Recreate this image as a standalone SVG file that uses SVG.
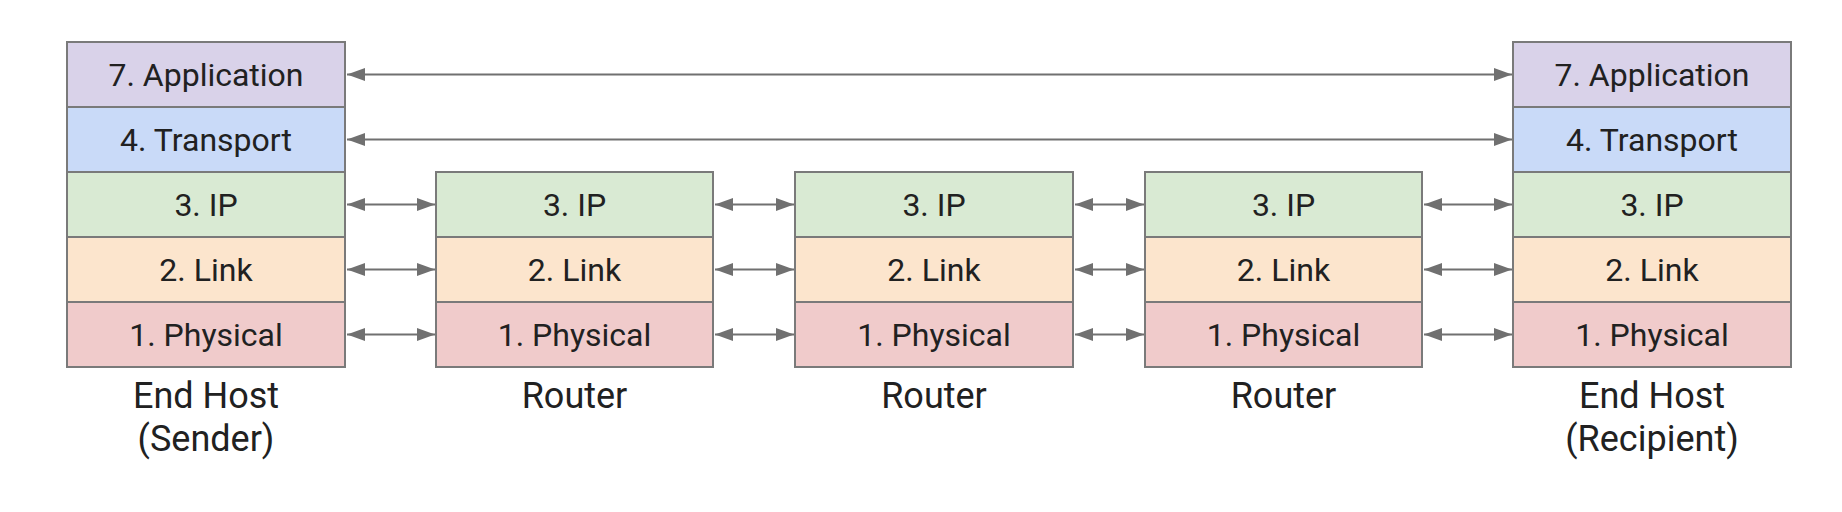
<svg xmlns="http://www.w3.org/2000/svg" width="1842" height="512" viewBox="0 0 1842 512">
  <style>
    .box { stroke: #7a7a7a; stroke-width: 2; }
    .app { fill: #d9d2e9; }
    .tr { fill: #c9daf8; }
    .ip { fill: #d9ead3; }
    .lk { fill: #fce5cd; }
    .ph { fill: #f0cbcb; }
    .t { font-family: Roboto, "Liberation Sans", sans-serif; font-size: 32px; fill: #212121; text-anchor: middle; }
    .lbl { font-family: Roboto, "Liberation Sans", sans-serif; font-size: 36px; fill: #212121; text-anchor: middle; }
    .arr { stroke: #707070; stroke-width: 2.2; fill: none; marker-start: url(#ah); marker-end: url(#ah); }
  </style>
  <defs>
    <marker id="ah" viewBox="0 0 18 13" refX="18" refY="6.5" markerWidth="18" markerHeight="13" markerUnits="userSpaceOnUse" orient="auto-start-reverse">
      <path d="M0,0 L18,6.5 L0,13 z" fill="#707070"/>
    </marker>
  </defs>
  <rect width="1842" height="512" fill="#ffffff"/>

  <g id="connectors">
    <line class="arr" x1="347" y1="74.5" x2="1512" y2="74.5"/>
    <line class="arr" x1="347" y1="139.5" x2="1512" y2="139.5"/>
    <line class="arr" x1="347" y1="204.5" x2="435" y2="204.5"/>
    <line class="arr" x1="347" y1="269.5" x2="435" y2="269.5"/>
    <line class="arr" x1="347" y1="334.5" x2="435" y2="334.5"/>
    <line class="arr" x1="715" y1="204.5" x2="794" y2="204.5"/>
    <line class="arr" x1="715" y1="269.5" x2="794" y2="269.5"/>
    <line class="arr" x1="715" y1="334.5" x2="794" y2="334.5"/>
    <line class="arr" x1="1075" y1="204.5" x2="1144" y2="204.5"/>
    <line class="arr" x1="1075" y1="269.5" x2="1144" y2="269.5"/>
    <line class="arr" x1="1075" y1="334.5" x2="1144" y2="334.5"/>
    <line class="arr" x1="1424" y1="204.5" x2="1512" y2="204.5"/>
    <line class="arr" x1="1424" y1="269.5" x2="1512" y2="269.5"/>
    <line class="arr" x1="1424" y1="334.5" x2="1512" y2="334.5"/>
  </g>

  <g id="sender">
    <rect class="box app" x="67" y="42" width="278" height="65"/>
    <rect class="box tr" x="67" y="107" width="278" height="65"/>
    <rect class="box ip" x="67" y="172" width="278" height="65"/>
    <rect class="box lk" x="67" y="237" width="278" height="65"/>
    <rect class="box ph" x="67" y="302" width="278" height="65"/>
    <text class="t" x="206" y="86">7. Application</text>
    <text class="t" x="206" y="151">4. Transport</text>
    <text class="t" x="206" y="216">3. IP</text>
    <text class="t" x="206" y="281">2. Link</text>
    <text class="t" x="206" y="346">1. Physical</text>
    <text class="lbl" x="206" y="408">End Host</text>
    <text class="lbl" x="206" y="451">(Sender)</text>
  </g>

  <g id="router1">
    <rect class="box ip" x="436" y="172" width="277" height="65"/>
    <rect class="box lk" x="436" y="237" width="277" height="65"/>
    <rect class="box ph" x="436" y="302" width="277" height="65"/>
    <text class="t" x="574.5" y="216">3. IP</text>
    <text class="t" x="574.5" y="281">2. Link</text>
    <text class="t" x="574.5" y="346">1. Physical</text>
    <text class="lbl" x="574.5" y="408">Router</text>
  </g>

  <g id="router2">
    <rect class="box ip" x="795" y="172" width="278" height="65"/>
    <rect class="box lk" x="795" y="237" width="278" height="65"/>
    <rect class="box ph" x="795" y="302" width="278" height="65"/>
    <text class="t" x="934" y="216">3. IP</text>
    <text class="t" x="934" y="281">2. Link</text>
    <text class="t" x="934" y="346">1. Physical</text>
    <text class="lbl" x="934" y="408">Router</text>
  </g>

  <g id="router3">
    <rect class="box ip" x="1145" y="172" width="277" height="65"/>
    <rect class="box lk" x="1145" y="237" width="277" height="65"/>
    <rect class="box ph" x="1145" y="302" width="277" height="65"/>
    <text class="t" x="1283.5" y="216">3. IP</text>
    <text class="t" x="1283.5" y="281">2. Link</text>
    <text class="t" x="1283.5" y="346">1. Physical</text>
    <text class="lbl" x="1283.5" y="408">Router</text>
  </g>

  <g id="recipient">
    <rect class="box app" x="1513" y="42" width="278" height="65"/>
    <rect class="box tr" x="1513" y="107" width="278" height="65"/>
    <rect class="box ip" x="1513" y="172" width="278" height="65"/>
    <rect class="box lk" x="1513" y="237" width="278" height="65"/>
    <rect class="box ph" x="1513" y="302" width="278" height="65"/>
    <text class="t" x="1652" y="86">7. Application</text>
    <text class="t" x="1652" y="151">4. Transport</text>
    <text class="t" x="1652" y="216">3. IP</text>
    <text class="t" x="1652" y="281">2. Link</text>
    <text class="t" x="1652" y="346">1. Physical</text>
    <text class="lbl" x="1652" y="408">End Host</text>
    <text class="lbl" x="1652" y="451">(Recipient)</text>
  </g>
</svg>
